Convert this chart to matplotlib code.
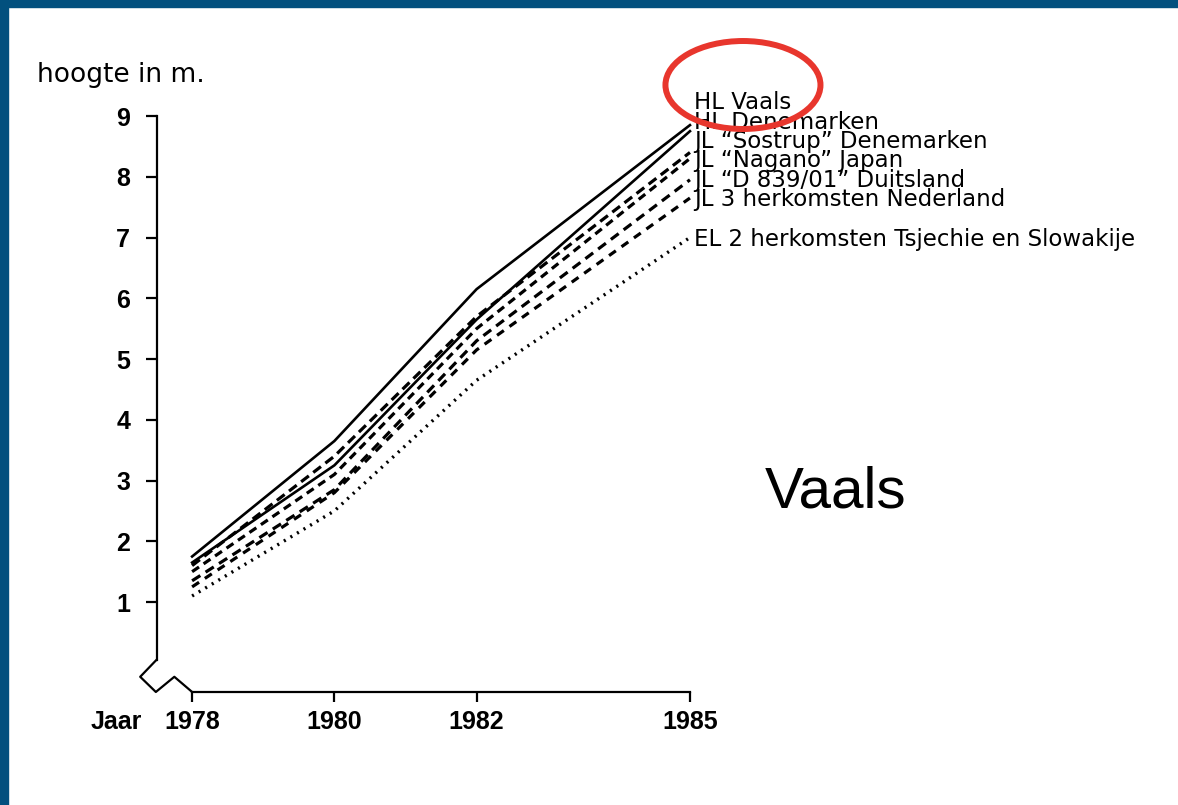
import matplotlib
matplotlib.use("Agg")
import matplotlib.pyplot as plt
from matplotlib.patches import Ellipse, Rectangle

# data (height in metres)
years = [1978, 1980, 1982, 1985]
labels = [
    "HL Vaals",
    "HL Denemarken",
    "JL \u201cSostrup\u201d Denemarken",
    "JL \u201cNagano\u201d Japan",
    "JL \u201cD 839/01\u201d Duitsland",
    "JL 3 herkomsten Nederland",
    "EL 2 herkomsten Tsjechie en Slowakije",
]
hl_vaals = [1.75, 3.65, 6.15, 8.85]
hl_denemarken = [1.65, 3.25, 5.65, 8.75]
jl_sostrup = [1.6, 3.4, 5.7, 8.4]
jl_nagano = [1.5, 3.1, 5.5, 8.3]
jl_d839 = [1.35, 2.85, 5.3, 7.95]
jl_nederland = [1.25, 2.8, 5.15, 7.65]
el_tsjechie = [1.1, 2.5, 4.65, 7.0]

series = [hl_vaals, hl_denemarken, jl_sostrup, jl_nagano, jl_d839, jl_nederland, el_tsjechie]
styles = ["-", "-", (0, (7, 4)), (0, (6, 4)), (0, (7, 4.5)), (0, (6, 5)), (0, (1.5, 4))]
widths = [1.9, 1.9, 2.3, 2.3, 2.3, 2.3, 2.4]
label_y = [9.22, 8.9, 8.58, 8.26, 7.94, 7.62, 6.96]

plt.rcParams["font.family"] = ["Liberation Sans", "DejaVu Sans"]
plt.rcParams["lines.scale_dashes"] = False

fig = plt.figure(figsize=(11.78, 8.05), dpi=100)
ax = fig.add_axes([0.1329, 0.1404, 0.4528, 0.7155])
ax.set_xlim(1977.5, 1985)
ax.set_ylim(-0.48, 9)

for vals, ls, lw in zip(series, styles, widths):
    ax.plot(years, vals, color="black", linestyle=ls, linewidth=lw, clip_on=False)

for lab, yy in zip(labels, label_y):
    ax.annotate(lab, xy=(1985, yy), xytext=(3, 0), textcoords="offset points",
                fontsize=16.5, family="DejaVu Sans", va="center", ha="left",
                annotation_clip=False)

# axes
for s in ["top", "right"]:
    ax.spines[s].set_visible(False)
ax.spines["left"].set_bounds(0.05, 9)
ax.spines["bottom"].set_bounds(1978, 1985)
ax.spines["left"].set_linewidth(1.6)
ax.spines["bottom"].set_linewidth(1.6)
ax.set_yticks(range(1, 10))
ax.set_xticks(years)
ax.tick_params(axis="y", length=8, width=1.6, pad=11, labelsize=18)
ax.tick_params(axis="x", length=7, width=1.6, pad=6, labelsize=18)
for t in ax.get_xticklabels() + ax.get_yticklabels():
    t.set_fontweight("bold")

# axis break zigzag
ax.plot([1977.5, 1977.27, 1977.49, 1977.75, 1978.0], [0.05, -0.23, -0.48, -0.23, -0.48],
        color="black", linewidth=1.6, clip_on=False)

fig.text(37 / 1178, 1 - 75 / 805, "hoogte in m.", fontsize=19, family="DejaVu Sans",
         ha="left", va="center")
fig.text(142 / 1178, 1 - 722 / 805, "Jaar", fontsize=18, fontweight="bold",
         ha="right", va="center")
fig.text(765 / 1178, 1 - 492 / 805, "Vaals", fontsize=42, ha="left", va="center")

# frame of the slide
fig.patches.append(Rectangle((0, 0.991), 1, 0.009, transform=fig.transFigure,
                             color="#02507e", zorder=0))
fig.patches.append(Rectangle((0, 0), 0.0068, 1, transform=fig.transFigure,
                             color="#02507e", zorder=0))

# red circle around the first label
fig.patches.append(Ellipse((0.6307, 0.8944), 0.1316, 0.1093, transform=fig.transFigure,
                           fill=False, edgecolor="#e8362d", linewidth=4.3))

fig.savefig("out.png", dpi=100)
